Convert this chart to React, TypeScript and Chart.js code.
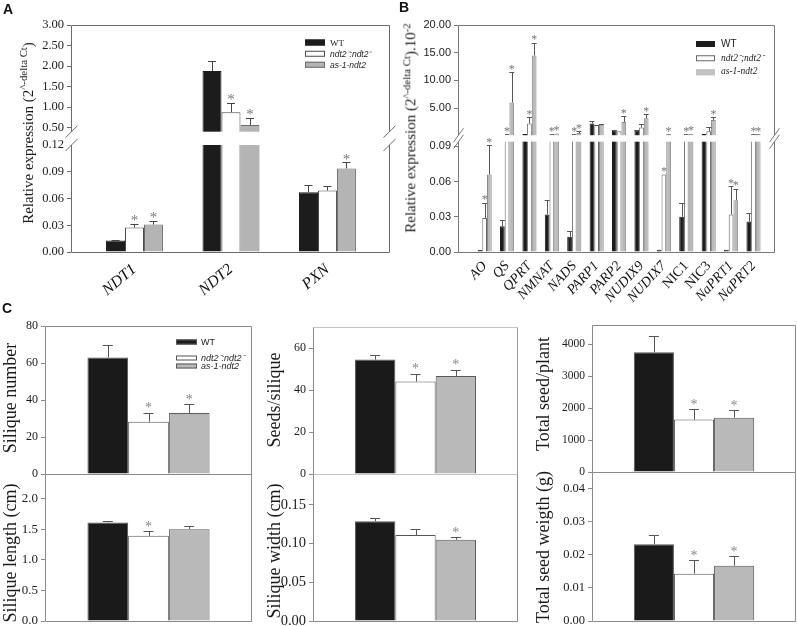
import React, { useEffect, useRef } from 'react';
import { Chart, registerables, LinearScale } from 'chart.js';

Chart.register(...registerables);

// ---------------- data ----------------
const SERIES_A = ['WT', 'ndt2⁻:ndt2⁻', 'as-1-ndt2'];
const SERIES_B = ['WT', 'ndt2⁻;ndt2⁻', 'as-1-ndt2'];

// Panel A (relative expression, broken axis)
const A_GENES = ['NDT1', 'NDT2', 'PXN'];
const A_WT = [0.013, 1.88, 0.067];
const A_WT_ERR = [0.001, 0.24, 0.008];
const A_MUT = [0.0274, 0.875, 0.069];
const A_MUT_ERR = [0.0045, 0.235, 0.0045];
const A_AS = [0.0308, 0.56, 0.0937];
const A_AS_ERR = [0.004, 0.18, 0.0067];
const A_WT_SIG = [false, false, false];
const A_MUT_SIG = [true, true, false];
const A_AS_SIG = [true, true, true];
const A_TICKS = [0, 0.03, 0.06, 0.09, 0.12, 0.5, 1.0, 1.5, 2.0, 2.5, 3.0];
const A_BREAK = [0.12, 0.4]; // lower segment top, upper segment bottom
const A_TOP = 3.0;

// Panel B (relative expression, broken axis)
const B_GENES = ['AO', 'QS', 'QPRT', 'NMNAT', 'NADS', 'PARP1', 'PARP2', 'NUDIX9', 'NUDIX7', 'NIC1', 'NIC3', 'NaPRT1', 'NaPRT2'];
const B_WT = [0.002, 0.022, 0.3, 0.032, 0.013, 2.2, 1.0, 1.0, 0.002, 0.03, 0.3, 0.002, 0.026];
const B_WT_ERR = [0, 0.005, 0, 0.012, 0.005, 0.45, 0.05, 0.1, 0, 0.012, 0, 0, 0.007];
const B_MUT = [0.029, 0.3, 2.2, 0.3, 0.3, 1.9, 0.8, 1.5, 0.066, 0.3, 0.8, 0.032, 0.3];
const B_MUT_ERR = [0.013, 0, 1.2, 0, 0, 0.1, 0, 0.55, 0, 0, 0.8, 0.024, 0];
const B_AS = [0.066, 6.0, 14.5, 0.4, 0.5, 2.0, 2.5, 3.15, 0.3, 0.35, 2.85, 0.044, 0.3];
const B_AS_ERR = [0.025, 5.5, 2.3, 0, 0.3, 0.1, 1.05, 0.7, 0, 0, 0.45, 0.01, 0];
const B_WT_SIG = [false, false, false, false, false, false, false, false, false, false, false, false, false];
const B_MUT_SIG = [true, true, true, true, true, false, false, false, true, true, false, true, true];
const B_AS_SIG = [true, true, true, true, true, false, true, true, true, true, true, true, true];
const B_TICKS = [0, 0.03, 0.06, 0.09, 5, 10, 15, 20];
const B_BREAK = [0.094, 0.1];
const B_TOP = 20;

// Panel C (WT, ndt2-:ndt2-, as-1-ndt2)
const C_SILIQUE_NUMBER = [63, 28.3, 33];
const C_SILIQUE_NUMBER_ERR = [6.5, 4.9, 4.8];
const C_SILIQUE_NUMBER_SIG = [false, true, true];
const C_SILIQUE_NUMBER_TICKS = [0, 20, 40, 60, 80];

const C_SEEDS_PER_SILIQUE = [54.5, 44, 46.7];
const C_SEEDS_PER_SILIQUE_ERR = [2.4, 3.7, 2.9];
const C_SEEDS_PER_SILIQUE_SIG = [false, true, true];
const C_SEEDS_PER_SILIQUE_TICKS = [0, 20, 40, 60];

const C_TOTAL_SEED = [3750, 1640, 1700];
const C_TOTAL_SEED_ERR = [510, 320, 230];
const C_TOTAL_SEED_SIG = [false, true, true];
const C_TOTAL_SEED_TICKS = [0, 1000, 2000, 3000, 4000];

const C_SILIQUE_LENGTH = [1.61, 1.39, 1.5];
const C_SILIQUE_LENGTH_ERR = [0.02, 0.08, 0.05];
const C_SILIQUE_LENGTH_SIG = [false, true, false];
const C_SILIQUE_LENGTH_TICKS = [0, 0.5, 1.0, 1.5, 2.0];

const C_SILIQUE_WIDTH = [0.129, 0.111, 0.105];
const C_SILIQUE_WIDTH_ERR = [0.004, 0.008, 0.003];
const C_SILIQUE_WIDTH_SIG = [false, false, true];
const C_SILIQUE_WIDTH_TICKS = [0, 0.05, 0.1, 0.15];

const C_SEED_WEIGHT = [0.0232, 0.0143, 0.0167];
const C_SEED_WEIGHT_ERR = [0.0029, 0.004, 0.0029];
const C_SEED_WEIGHT_SIG = [false, true, true];
const C_SEED_WEIGHT_TICKS = [0, 0.01, 0.02, 0.03, 0.04];

// ---------------- fonts / styles ----------------
const SERIF = '"Liberation Serif", "Times New Roman", serif';
const SANS = '"Liberation Sans", Arial, sans-serif';

const STYLE_A = [
  { fill: '#1c1c1c', stroke: '#1c1c1c', width: 1 },
  { fill: '#ffffff', stroke: '#4a4a4a', width: 1 },
  { fill: '#b4b4b4', stroke: '#6b6b6b', width: 1 },
];
const STYLE_B = [
  { fill: '#1c1c1c', stroke: '#1c1c1c', width: 1 },
  { fill: '#ffffff', stroke: '#666666', width: 1 },
  { fill: '#b9b9b9', stroke: '#8a8a8a', width: 1 },
];
const STYLE_C = [
  { fill: '#1a1a1a', stroke: '#555555', width: 1 },
  { fill: '#ffffff', stroke: '#555555', width: 1 },
  { fill: '#b9b9b9', stroke: '#5a5a5a', width: 1 },
];

// ---------------- broken-axis scale ----------------
function makeBrokenScale(scaleId: string, ticks: number[], brk: number[], highMax: number, lowFrac: number, highFrac: number) {
  const lowMax = brk[0];
  const highMin = brk[1];
  class BrokenScale extends LinearScale {
    determineDataLimits() {
      (this as any).min = 0;
      (this as any).max = highMax;
    }
    buildTicks() {
      return ticks.map((v) => ({ value: v }));
    }
    getPixelForValue(value: any) {
      if (value === null || value === undefined || isNaN(value)) return NaN;
      let d;
      if (value <= lowMax) d = (value / lowMax) * lowFrac;
      else if (value >= highMin) d = 1 - highFrac + ((value - highMin) / (highMax - highMin)) * highFrac;
      else d = lowFrac + ((value - lowMax) / (highMin - lowMax)) * (1 - lowFrac - highFrac);
      return (this as any).getPixelForDecimal(d);
    }
    getValueForPixel(pixel: number) {
      const d = (this as any).getDecimalForPixel(pixel);
      if (d <= lowFrac) return (d / lowFrac) * lowMax;
      if (d >= 1 - highFrac) return highMin + ((d - (1 - highFrac)) / highFrac) * (highMax - highMin);
      return lowMax + ((d - lowFrac) / (1 - lowFrac - highFrac)) * (highMin - lowMax);
    }
  }
  (BrokenScale as any).id = scaleId;
  (BrokenScale as any).defaults = {};
  return BrokenScale;
}

const BrokenA = makeBrokenScale('brokenA', A_TICKS, A_BREAK, A_TOP, 0.4714, 0.47);
const BrokenB = makeBrokenScale('brokenB', B_TICKS, B_BREAK, B_TOP, 0.486, 0.4855);
Chart.register(BrokenA as any, BrokenB as any);

// ---------------- decorations plugin ----------------
function decorPlugin(spec: any) {
  return {
    id: 'decor',
    afterDatasetsDraw(chart: any) {
      const ctx = chart.ctx;
      const area = chart.chartArea;
      const ys = chart.scales.y;
      const r = (v: number) => Math.round(v) + 0.5;
      const L = r(area.left);
      const R = r(area.right) - 1;
      const T = r(area.top);
      const B = r(area.bottom);
      const fc = spec.frameColor;
      ctx.save();
      ctx.lineWidth = 1;
      const seg = (x1: number, y1: number, x2: number, y2: number, color: string) => {
        ctx.strokeStyle = color;
        ctx.beginPath();
        ctx.moveTo(x1, y1);
        ctx.lineTo(x2, y2);
        ctx.stroke();
      };
      if (spec.brk) {
        const gTop = ys.getPixelForValue(spec.brk[1]);
        const gBot = ys.getPixelForValue(spec.brk[0]);
        ctx.fillStyle = '#ffffff';
        ctx.fillRect(area.left - 4, gTop, area.right - area.left + 8, gBot - gTop);
        seg(L, T, R, T, fc);
        seg(L, B, R, B, fc);
        seg(L, T, L, gTop, fc);
        seg(L, gBot, L, B, fc);
        seg(R, T, R, gTop, fc);
        seg(R, gBot, R, B, fc);
        const [sx, sy] = spec.slash;
        for (const x of [L, R]) {
          for (const y of [gTop, gBot]) seg(x - sx, y + sy, x + sx, y - sy, fc);
        }
      } else {
        seg(L, T, R, T, spec.topColor || fc);
        seg(L, B, R, B, fc);
        seg(L, T, L, B, fc);
        seg(R, T, R, B, spec.rightColor || fc);
      }
      chart.data.datasets.forEach((_ds: any, i: number) => {
        const meta = chart.getDatasetMeta(i);
        meta.data.forEach((el: any, j: number) => {
          const v = spec.values[i][j];
          const e = spec.errors[i][j];
          const x = el.x;
          let yTop = ys.getPixelForValue(v);
          if (e > 0) {
            const ye = ys.getPixelForValue(v + e);
            seg(r(x), yTop, r(x), r(ye), spec.errColor);
            seg(x - spec.cap, r(ye), x + spec.cap, r(ye), spec.errColor);
            yTop = ye;
          }
          if (spec.sig[i][j]) {
            ctx.fillStyle = spec.starColor;
            ctx.font = `${spec.starSize}px ${SERIF}`;
            ctx.textAlign = 'center';
            ctx.textBaseline = 'alphabetic';
            ctx.fillText('*', x, yTop - spec.starGap + 0.47 * spec.starSize);
          }
        });
      });
      ctx.restore();
    },
  };
}

// ---------------- chart config ----------------
function buildConfig(spec: any) {
  const linearX = !!spec.xRange;
  const datasets = spec.values.map((vals: number[], i: number) => ({
    label: spec.names[i],
    data: linearX ? vals.map((v, j) => ({ x: j, y: v })) : vals,
    backgroundColor: spec.styles[i].fill,
    borderColor: spec.styles[i].stroke,
    borderWidth: spec.styles[i].width,
    categoryPercentage: spec.catPct,
    barPercentage: 1,
  }));
  const x = linearX
    ? {
        type: 'linear',
        offset: false,
        min: spec.xRange[0],
        max: spec.xRange[1],
        grid: { display: false, drawTicks: false },
        border: { display: false },
        ticks: {
          autoSkip: false,
          minRotation: spec.xRot,
          maxRotation: spec.xRot,
          padding: spec.xPad,
          color: '#111',
          font: spec.xFont,
          callback: (v: number) => spec.labels[v] ?? '',
        },
        afterBuildTicks: (s: any) => {
          s.ticks = spec.labels.map((_l: string, j: number) => ({ value: j }));
        },
        afterFit: (s: any) => {
          s.height = spec.xHeight;
        },
      }
    : { type: 'category', display: false, offset: true };
  const y: any = {
    type: spec.yType,
    min: 0,
    max: spec.yMax,
    grid: { display: true, drawOnChartArea: false, drawTicks: true, tickLength: 4, color: spec.frameColor },
    border: { display: false },
    ticks: {
      autoSkip: false,
      padding: 3,
      color: '#1a1a1a',
      font: spec.yFont,
      callback: (v: number) => Number(v).toFixed(spec.yDecimals),
    },
    afterBuildTicks: (s: any) => {
      s.ticks = spec.yTicks.map((v: number) => ({ value: v }));
    },
    afterFit: (s: any) => {
      s.width = spec.yWidth;
    },
  };
  return {
    type: 'bar',
    data: { labels: linearX ? undefined : [''], datasets },
    options: {
      responsive: true,
      maintainAspectRatio: false,
      animation: false,
      events: [],
      layout: { padding: spec.padding },
      plugins: { legend: { display: false }, tooltip: { enabled: false } },
      scales: { x, y },
    },
    plugins: [decorPlugin(spec)],
  };
}

function ChartCanvas({ box, spec }: any) {
  const ref = useRef<HTMLCanvasElement | null>(null);
  useEffect(() => {
    const chart = new Chart(ref.current as any, buildConfig(spec) as any);
    return () => chart.destroy();
  }, []);
  return (
    <div style={{ position: 'absolute', left: box.left, top: box.top, width: box.width, height: box.height }}>
      <canvas ref={ref} />
    </div>
  );
}

// layout helper: plot rect -> canvas box
function place(x0: number, y0: number, x1: number, y1: number, W: number, H: number, pad: any) {
  return {
    left: x0 - W - pad.left,
    top: y0 - pad.top,
    width: pad.left + W + (x1 - x0) + pad.right,
    height: pad.top + (y1 - y0) + H + pad.bottom,
  };
}

// ---------------- panel specs ----------------
const PAD_A = { top: 14, right: 12, bottom: 0, left: 0 };
const specA = {
  names: SERIES_A,
  labels: A_GENES,
  values: [A_WT, A_MUT, A_AS],
  errors: [A_WT_ERR, A_MUT_ERR, A_AS_ERR],
  sig: [A_WT_SIG, A_MUT_SIG, A_AS_SIG],
  yType: 'brokenA',
  yMax: A_TOP,
  yTicks: A_TICKS,
  yDecimals: 2,
  yFont: { family: SERIF, size: 12.5 },
  yWidth: 60,
  xRange: [-0.658, 2.648],
  xRot: 40,
  xPad: 8,
  xFont: { family: SERIF, size: 16, style: 'italic' },
  xHeight: 50,
  catPct: 0.59,
  padding: PAD_A,
  styles: STYLE_A,
  frameColor: '#6a6a6a',
  errColor: '#444444',
  cap: 4,
  starSize: 15,
  starGap: 6,
  starColor: '#777777',
  brk: A_BREAK,
  slash: [6, 6],
};
const boxA = place(71, 25, 390, 252, 60, 50, PAD_A);

const PAD_B = { top: 14, right: 12, bottom: 0, left: 0 };
const specB = {
  names: SERIES_B,
  labels: B_GENES,
  values: [B_WT, B_MUT, B_AS],
  errors: [B_WT_ERR, B_MUT_ERR, B_AS_ERR],
  sig: [B_WT_SIG, B_MUT_SIG, B_AS_SIG],
  yType: 'brokenB',
  yMax: B_TOP,
  yTicks: B_TICKS,
  yDecimals: 2,
  yFont: { family: SANS, size: 11 },
  yWidth: 54,
  xRange: [-1.19, 12.96],
  xRot: 47,
  xPad: 6,
  xFont: (c: any) => ({
    family: SERIF,
    size: 14,
    style: /^NIC/.test(B_GENES[c.index] || '') ? 'normal' : 'italic',
  }),
  xHeight: 55,
  catPct: 0.63,
  padding: PAD_B,
  styles: STYLE_B,
  frameColor: '#777777',
  errColor: '#555555',
  cap: 2.5,
  starSize: 12,
  starGap: 5,
  starColor: '#777777',
  brk: B_BREAK,
  slash: [5, 7],
};
const boxB = place(458, 25, 775, 252, 54, 55, PAD_B);

const PAD_C = { top: 14, right: 6, bottom: 14, left: 0 };
function specC(vals: number[], errs: number[], sig: boolean[], ticks: number[], yMax: number, dec: number, fontSize: number, extra: any = {}) {
  return {
    names: SERIES_A,
    labels: [''],
    values: vals.map((v) => [v]),
    errors: errs.map((e) => [e]),
    sig: sig.map((s) => [s]),
    yType: 'linear',
    yMax,
    yTicks: ticks,
    yDecimals: dec,
    yFont: { family: SERIF, size: fontSize },
    yWidth: 40,
    catPct: 0.59,
    padding: PAD_C,
    styles: STYLE_C,
    frameColor: '#8a8a8a',
    errColor: '#555555',
    cap: 5,
    starSize: 14,
    starGap: 7,
    starColor: '#888888',
    ...extra,
  };
}

const CHARTS_C = [
  { box: place(45, 326, 252, 474, 40, 0, PAD_C), spec: specC(C_SILIQUE_NUMBER, C_SILIQUE_NUMBER_ERR, C_SILIQUE_NUMBER_SIG, C_SILIQUE_NUMBER_TICKS, 80, 0, 12) },
  { box: place(45, 474, 252, 621, 40, 0, PAD_C), spec: specC(C_SILIQUE_LENGTH, C_SILIQUE_LENGTH_ERR, C_SILIQUE_LENGTH_SIG, C_SILIQUE_LENGTH_TICKS, 2.4, 1, 13) },
  { box: place(313, 327, 518, 474, 40, 0, PAD_C), spec: specC(C_SEEDS_PER_SILIQUE, C_SEEDS_PER_SILIQUE_ERR, C_SEEDS_PER_SILIQUE_SIG, C_SEEDS_PER_SILIQUE_TICKS, 70, 0, 12, { topColor: '#c4c4c4', rightColor: '#9a9a9a' }) },
  { box: place(313, 474, 518, 621, 40, 0, PAD_C), spec: specC(C_SILIQUE_WIDTH, C_SILIQUE_WIDTH_ERR, C_SILIQUE_WIDTH_SIG, C_SILIQUE_WIDTH_TICKS, 0.19, 2, 14.5, { topColor: '#c4c4c4' }) },
  { box: place(592, 325, 796, 472, 40, 0, PAD_C), spec: specC(C_TOTAL_SEED, C_TOTAL_SEED_ERR, C_TOTAL_SEED_SIG, C_TOTAL_SEED_TICKS, 4600, 0, 11.5) },
  { box: place(592, 472, 796, 621, 40, 0, PAD_C), spec: specC(C_SEED_WEIGHT, C_SEED_WEIGHT_ERR, C_SEED_WEIGHT_SIG, C_SEED_WEIGHT_TICKS, 0.045, 2, 12.5) },
];

// ---------------- text components ----------------
function YTitle({ cx, cy, size, children }: any) {
  return (
    <div
      style={{
        position: 'absolute',
        left: cx,
        top: cy,
        transform: 'translate(-50%, -50%) rotate(-90deg)',
        whiteSpace: 'nowrap',
        font: `${size}px ${SERIF}`,
        color: '#1a1a1a',
        lineHeight: 1,
      }}
    >
      {children}
    </div>
  );
}

function Letter({ x, y, children }: any) {
  return (
    <div style={{ position: 'absolute', left: x, top: y, font: `bold 14px ${SANS}`, lineHeight: '14px', color: '#111' }}>{children}</div>
  );
}

function Legend({ left, top, offsets, rectW, rectH, gap, fonts, names, styles }: any) {
  return (
    <>
      {names.map((n: string, i: number) => (
        <div
          key={i}
          style={{
            position: 'absolute',
            left,
            top: top + offsets[i],
            transform: 'translateY(-50%)',
            display: 'flex',
            alignItems: 'center',
            whiteSpace: 'nowrap',
          }}
        >
          <span
            style={{
              display: 'inline-block',
              width: rectW,
              height: rectH,
              background: styles[i].fill,
              border: `1px solid ${styles[i].stroke}`,
              boxSizing: 'border-box',
            }}
          />
          <span style={{ marginLeft: gap, font: fonts[i], color: '#222', lineHeight: 1 }}>{n}</span>
        </div>
      ))}
    </>
  );
}

const SUP = { fontSize: '0.72em', verticalAlign: '0.5em' };

export default function App() {
  return (
    <div style={{ position: 'absolute', left: 0, top: 0, width: 797, height: 626, background: '#fff', overflow: 'hidden' }}>
      <ChartCanvas box={boxA} spec={specA} />
      <ChartCanvas box={boxB} spec={specB} />
      {CHARTS_C.map((c, i) => (
        <ChartCanvas key={i} box={c.box} spec={c.spec} />
      ))}

      <Letter x={3} y={1.5}>A</Letter>
      <Letter x={399} y={0}>B</Letter>
      <Letter x={2} y={301}>C</Letter>

      <YTitle cx={27} cy={133} size={15}>
        Relative expression (2<span style={SUP}>^-delta Ct</span>)
      </YTitle>
      <YTitle cx={410} cy={128} size={15}>
        Relative expression (2<span style={SUP}>^-delta Ct</span>).10<span style={SUP}>-2</span>
      </YTitle>
      <YTitle cx={10} cy={398} size={18}>Silique number</YTitle>
      <YTitle cx={10} cy={553} size={18}>Silique length (cm)</YTitle>
      <YTitle cx={274} cy={400} size={18}>Seeds/silique</YTitle>
      <YTitle cx={274} cy={551} size={18}>Silique width (cm)</YTitle>
      <YTitle cx={543} cy={394} size={18}>Total seed/plant</YTitle>
      <YTitle cx={543} cy={547} size={18}>Total seed weigth (g)</YTitle>

      <Legend
        left={305}
        top={42.5}
        offsets={[0, 11, 22]}
        rectW={20}
        rectH={6}
        gap={5}
        names={SERIES_A}
        styles={STYLE_A}
        fonts={[`9px ${SERIF}`, `italic 8.5px ${SANS}`, `italic 8.5px ${SANS}`]}
      />
      <Legend
        left={696}
        top={43.7}
        offsets={[0, 15, 28.6]}
        rectW={19}
        rectH={6}
        gap={6}
        names={SERIES_B}
        styles={[STYLE_B[0], STYLE_B[1], { fill: '#c2c2c2', stroke: '#c2c2c2' }]}
        fonts={[`10px ${SANS}`, `italic 9.5px ${SERIF}`, `italic 9.5px ${SERIF}`]}
      />
      <Legend
        left={176}
        top={342.2}
        offsets={[0, 15.3, 24]}
        rectW={21}
        rectH={5}
        gap={4}
        names={SERIES_A}
        styles={STYLE_C}
        fonts={[`9px ${SANS}`, `italic 9px ${SANS}`, `italic 9px ${SANS}`]}
      />
    </div>
  );
}
